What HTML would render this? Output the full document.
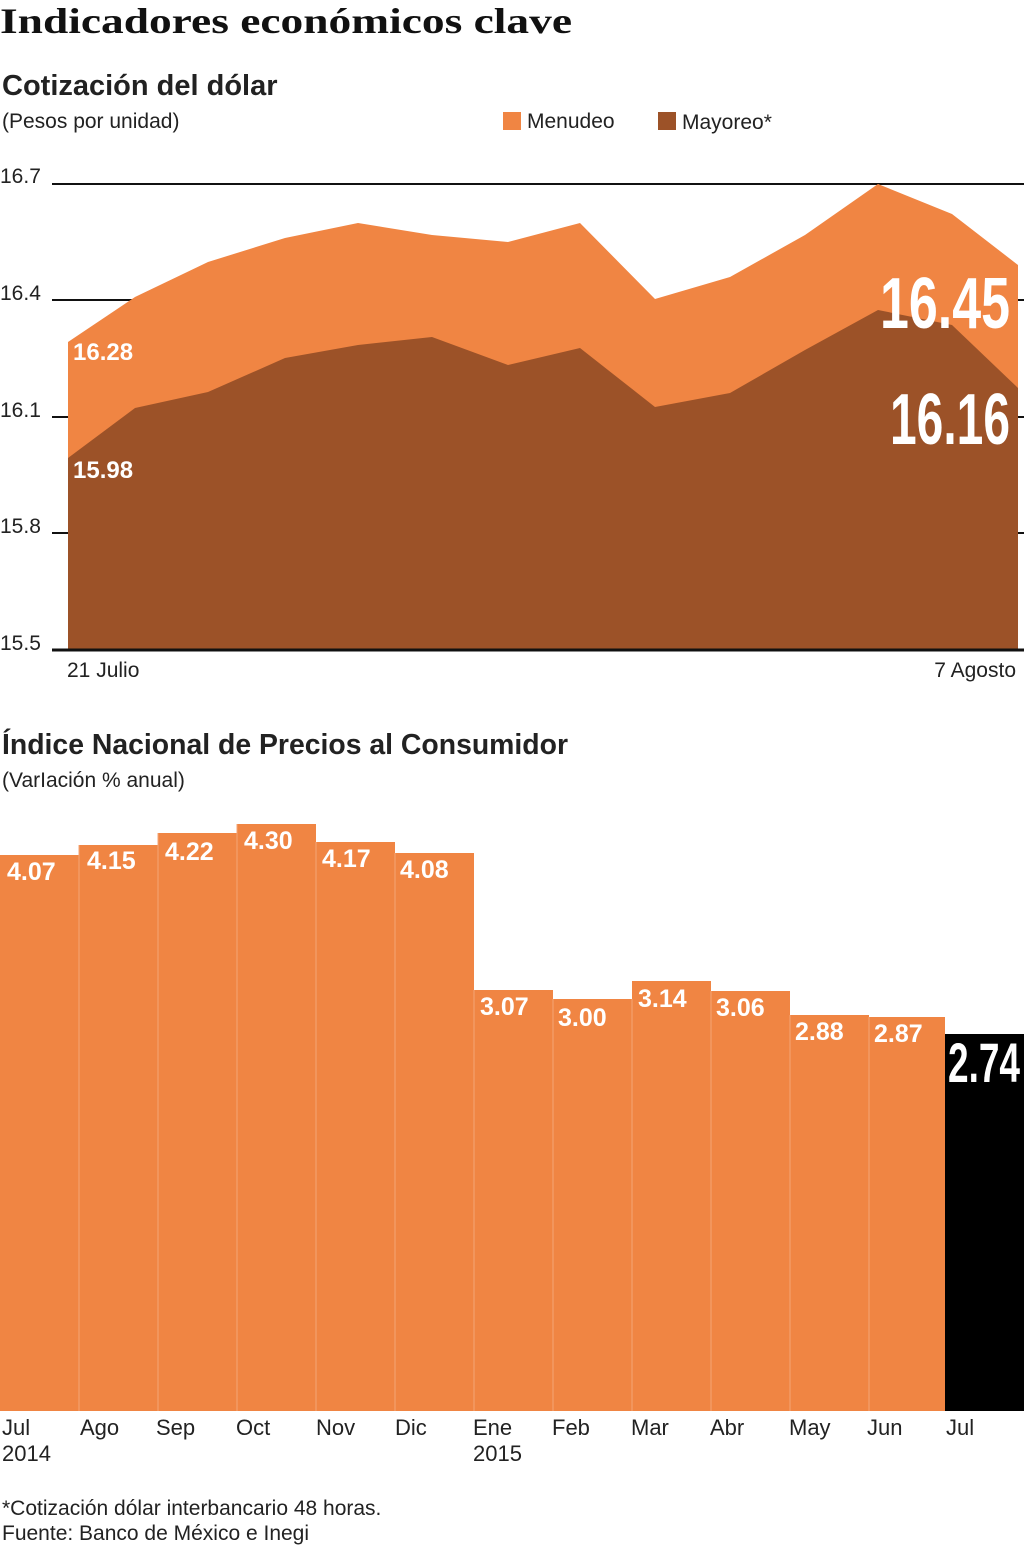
<!DOCTYPE html>
<html><head><meta charset="utf-8"><style>
body{margin:0;background:#fff;width:1024px;height:1546px;overflow:hidden;font-family:"Liberation Sans",sans-serif;}
</style></head><body>
<svg width="1024" height="1546" xmlns="http://www.w3.org/2000/svg" font-family="Liberation Sans, sans-serif">
<text x="0" y="33" style="font-family:'Liberation Serif',serif" font-size="36" font-weight="bold" fill="#111" textLength="572" lengthAdjust="spacingAndGlyphs">Indicadores económicos clave</text>
<text x="2" y="95" font-size="29" font-weight="bold" fill="#222">Cotización del dólar</text>
<text x="2" y="128" font-size="21" fill="#222">(Pesos por unidad)</text>
<rect x="503" y="112" width="18" height="18" fill="#f08543"/><text x="527" y="128" font-size="21" fill="#222">Menudeo</text>
<rect x="658" y="112" width="18" height="18" fill="#9c5228"/><text x="682" y="129" font-size="21" fill="#222">Mayoreo*</text>
<g stroke="#111" stroke-width="2">
<line x1="52" y1="184" x2="1024" y2="184"/><line x1="52" y1="300" x2="1024" y2="300"/>
<line x1="52" y1="417" x2="1024" y2="417"/><line x1="52" y1="533" x2="1024" y2="533"/>
</g>
<g font-size="21" fill="#222"><text x="0" y="183">16.7</text><text x="0" y="300">16.4</text><text x="0" y="417">16.1</text><text x="0" y="533">15.8</text><text x="0" y="650">15.5</text></g>
<polygon fill="#f08543" points="68,650 68,342 135,297 208,262 285,238 358,223 432,235 508,242 580,223 655,299 730,277 805,235 878,184 952,214 1018,265 1018,650"/>
<polygon fill="#9c5228" points="68,650 68,458 135,408 208,392 285,358 358,345 432,337 508,365 580,348 655,407 730,393 805,350 878,310 952,325 1018,388 1018,650"/>
<line x1="52" y1="650" x2="1024" y2="650" stroke="#111" stroke-width="3"/>
<text x="73" y="360" font-size="24" font-weight="bold" fill="#fff">16.28</text>
<text x="73" y="478" font-size="24" font-weight="bold" fill="#fff">15.98</text>
<text x="1010" y="328" font-size="72" font-weight="bold" fill="#fff" text-anchor="end" textLength="130" lengthAdjust="spacingAndGlyphs">16.45</text>
<text x="1010" y="444" font-size="72" font-weight="bold" fill="#fff" text-anchor="end" textLength="120" lengthAdjust="spacingAndGlyphs">16.16</text>
<text x="67" y="677" font-size="21" fill="#222">21 Julio</text>
<text x="1016" y="677" font-size="21" fill="#222" text-anchor="end">7 Agosto</text>
<text x="2" y="754" font-size="29" font-weight="bold" fill="#222" textLength="566" lengthAdjust="spacingAndGlyphs">Índice Nacional de Precios al Consumidor</text>
<text x="2" y="787" font-size="21" fill="#222">(VarIación % anual)</text>
<g fill="#f08543">
<rect x="0" y="855" width="79" height="556"/><rect x="79" y="845" width="79" height="566"/>
<rect x="158" y="833" width="79" height="578"/><rect x="237" y="824" width="79" height="587"/>
<rect x="316" y="842" width="79" height="569"/><rect x="395" y="853" width="79" height="558"/>
<rect x="474" y="990" width="79" height="421"/><rect x="553" y="999" width="79" height="412"/>
<rect x="632" y="981" width="79" height="430"/><rect x="711" y="991" width="79" height="420"/>
<rect x="790" y="1015" width="79" height="396"/><rect x="869" y="1017" width="76" height="394"/>
</g>
<rect x="945" y="1034" width="79" height="377" fill="#000"/>
<g stroke="#f5a574" stroke-width="1"><line x1="79" y1="845" x2="79" y2="1411"/><line x1="158" y1="833" x2="158" y2="1411"/><line x1="237" y1="824" x2="237" y2="1411"/><line x1="316" y1="842" x2="316" y2="1411"/><line x1="395" y1="853" x2="395" y2="1411"/><line x1="474" y1="990" x2="474" y2="1411"/><line x1="553" y1="999" x2="553" y2="1411"/><line x1="632" y1="999" x2="632" y2="1411"/><line x1="711" y1="991" x2="711" y2="1411"/><line x1="790" y1="1015" x2="790" y2="1411"/><line x1="869" y1="1017" x2="869" y2="1411"/></g>
<g font-size="25" font-weight="bold" fill="#fff">
<text x="7" y="880">4.07</text><text x="87" y="869">4.15</text><text x="165" y="860">4.22</text><text x="244" y="849">4.30</text><text x="322" y="867">4.17</text><text x="400" y="878">4.08</text>
<text x="480" y="1015">3.07</text><text x="558" y="1026">3.00</text><text x="638" y="1007">3.14</text><text x="716" y="1016">3.06</text><text x="795" y="1040">2.88</text><text x="874" y="1042">2.87</text>
</g>
<text x="1020" y="1082" font-size="56" font-weight="bold" fill="#fff" text-anchor="end" textLength="72" lengthAdjust="spacingAndGlyphs">2.74</text>
<g font-size="22" fill="#222">
<text x="2" y="1435">Jul</text><text x="2" y="1461">2014</text><text x="80" y="1435">Ago</text><text x="156" y="1435">Sep</text><text x="236" y="1435">Oct</text><text x="316" y="1435">Nov</text><text x="395" y="1435">Dic</text>
<text x="473" y="1435">Ene</text><text x="473" y="1461">2015</text><text x="552" y="1435">Feb</text><text x="631" y="1435">Mar</text><text x="710" y="1435">Abr</text><text x="789" y="1435">May</text><text x="867" y="1435">Jun</text><text x="946" y="1435">Jul</text>
</g>
<text x="2" y="1515" font-size="21" fill="#222">*Cotización dólar interbancario 48 horas.</text>
<text x="2" y="1540" font-size="21" fill="#222">Fuente: Banco de México e Inegi</text>
</svg>
</body></html>
